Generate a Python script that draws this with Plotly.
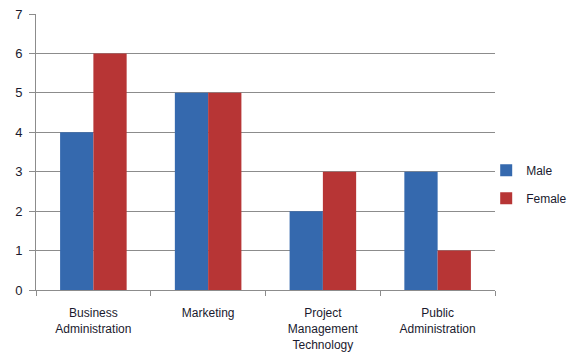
import plotly.graph_objects as go

categories = ["Business<br>Administration", "Marketing", "Project<br>Management<br>Technology", "Public<br>Administration"]
male = [4, 5, 2, 3]
female = [6, 5, 3, 1]
y_ticks = [0, 1, 2, 3, 4, 5, 6, 7]

fig = go.Figure()
fig.add_trace(go.Bar(x=categories, y=male, name="Male", legendgroup="m",
                     marker=dict(color="#3569AE", line=dict(width=0))))
fig.add_trace(go.Bar(x=categories, y=female, name="Female", legendgroup="f",
                     marker=dict(color="#B73535", line=dict(width=0))))

font_main = dict(family="Liberation Sans, Arial, sans-serif", size=12, color="#1a1a2e")

fig.update_layout(
    width=572, height=358,
    margin=dict(l=36, r=77, t=14, b=68, autoexpand=False),
    paper_bgcolor="white", plot_bgcolor="white",
    barmode="group", bargap=0.42, bargroupgap=0,
    font=font_main,
    showlegend=True,
    legend=dict(xref="container", yref="container", x=0.85, y=0.485,
                xanchor="left", yanchor="middle",
                font=dict(size=12), itemwidth=30, tracegroupgap=9,
                bgcolor="rgba(0,0,0,0)"),
    xaxis=dict(showline=True, linecolor="#8c8c8c", linewidth=1, automargin=False,
               ticks="outside", tickson="boundaries", ticklen=5, tickcolor="#8c8c8c",
               showgrid=False, tickfont=dict(size=12), ticklabelstandoff=12),
    yaxis=dict(range=[0, 7], tickvals=y_ticks, showline=True, linecolor="#8c8c8c",
               linewidth=1, ticks="outside", ticklen=6, tickcolor="#8c8c8c", automargin=False,
               showgrid=True, gridcolor="#8c8c8c", gridwidth=1, zeroline=False,
               tickfont=dict(size=13), ticklabelstandoff=4),
)

fig.write_html("out.html")
